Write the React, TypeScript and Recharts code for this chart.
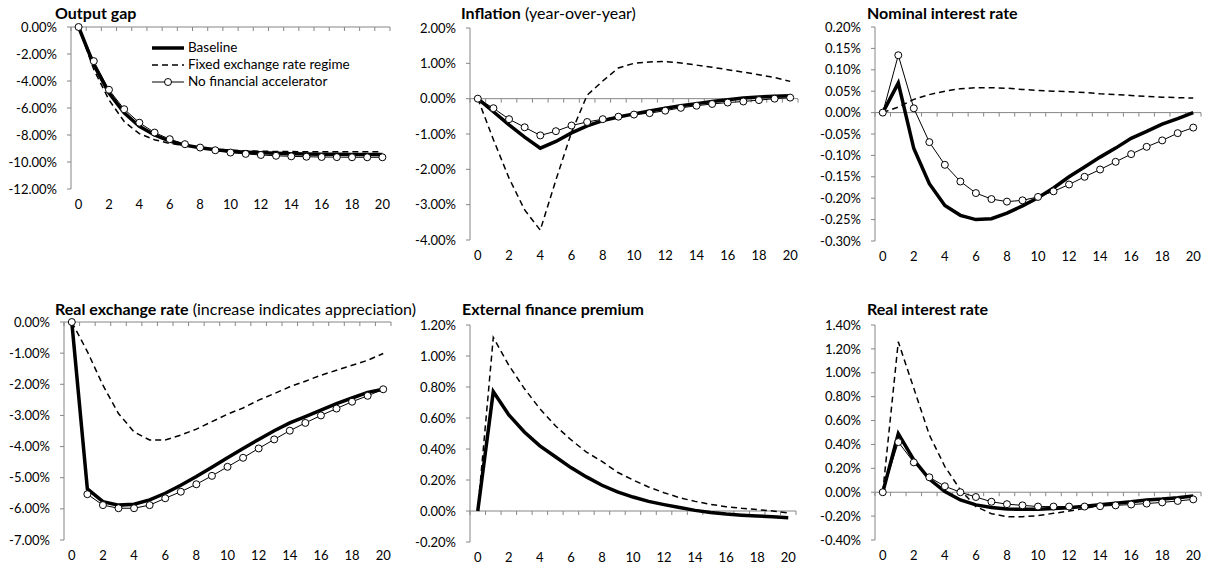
import { ComposedChart, Legend, Line, ReferenceLine, XAxis, YAxis } from "recharts";

const periods = [0, 1, 2, 3, 4, 5, 6, 7, 8, 9, 10, 11, 12, 13, 14, 15, 16, 17, 18, 19, 20];
const xTicks = [0, 2, 4, 6, 8, 10, 12, 14, 16, 18, 20];

// output gap
const gapBaseline = [0, -2.8, -4.9, -6.35, -7.35, -8.0, -8.45, -8.75, -8.95, -9.1, -9.2, -9.27, -9.32, -9.36, -9.39, -9.41, -9.42, -9.43, -9.44, -9.44, -9.45];
const gapFixed = [0, -3.15, -5.4, -7.0, -7.9, -8.35, -8.62, -8.8, -8.93, -9.04, -9.12, -9.17, -9.2, -9.22, -9.23, -9.24, -9.24, -9.24, -9.24, -9.24, -9.24];
const gapNoFa = [0, -2.53, -4.65, -6.09, -7.09, -7.82, -8.31, -8.68, -8.93, -9.13, -9.3, -9.4, -9.48, -9.54, -9.58, -9.61, -9.63, -9.64, -9.65, -9.65, -9.65];
const gapTicks = [0, -2, -4, -6, -8, -10, -12];

// inflation
const inflBaseline = [0, -0.37, -0.74, -1.09, -1.4, -1.21, -0.97, -0.77, -0.62, -0.52, -0.43, -0.35, -0.27, -0.2, -0.14, -0.08, -0.03, 0.02, 0.05, 0.07, 0.08];
const inflFixed = [0, -1.16, -2.25, -3.15, -3.72, -2.3, -0.95, 0.1, 0.5, 0.87, 1.0, 1.04, 1.05, 1.01, 0.95, 0.89, 0.82, 0.75, 0.68, 0.6, 0.49];
const inflNoFa = [0, -0.27, -0.58, -0.81, -1.04, -0.92, -0.76, -0.66, -0.58, -0.51, -0.45, -0.41, -0.34, -0.26, -0.2, -0.15, -0.11, -0.08, -0.04, 0.0, 0.03];
const inflTicks = [2, 1, 0, -1, -2, -3, -4];

// nominal interest rate
const nomBaseline = [0, 0.069, -0.084, -0.166, -0.217, -0.24, -0.25, -0.248, -0.235, -0.218, -0.199, -0.176, -0.15, -0.127, -0.104, -0.083, -0.06, -0.044, -0.027, -0.014, 0.0];
const nomFixed = [0, 0.013, 0.031, 0.042, 0.05, 0.056, 0.058, 0.058, 0.057, 0.054, 0.052, 0.05, 0.049, 0.047, 0.044, 0.042, 0.04, 0.038, 0.036, 0.035, 0.034];
const nomNoFa = [0, 0.134, 0.01, -0.069, -0.122, -0.161, -0.188, -0.202, -0.208, -0.205, -0.197, -0.184, -0.168, -0.15, -0.133, -0.115, -0.097, -0.08, -0.065, -0.048, -0.035];
const nomTicks = [0.2, 0.15, 0.1, 0.05, 0, -0.05, -0.1, -0.15, -0.2, -0.25, -0.3];

// real exchange rate
const rerBaseline = [0, -5.36, -5.77, -5.88, -5.85, -5.71, -5.5, -5.24, -4.96, -4.66, -4.36, -4.06, -3.77, -3.49, -3.24, -3.04, -2.83, -2.62, -2.44, -2.26, -2.16];
const rerFixed = [0, -0.95, -2.03, -2.94, -3.53, -3.79, -3.79, -3.63, -3.44, -3.2, -2.96, -2.76, -2.51, -2.3, -2.08, -1.9, -1.71, -1.55, -1.39, -1.23, -1.01];
const rerNoFa = [0, -5.53, -5.88, -5.98, -5.98, -5.88, -5.66, -5.45, -5.21, -4.94, -4.65, -4.36, -4.06, -3.77, -3.49, -3.24, -3.0, -2.78, -2.56, -2.37, -2.16];
const rerTicks = [0, -1, -2, -3, -4, -5, -6, -7];

// external finance premium
const efpBaseline = [0, 0.77, 0.62, 0.51, 0.42, 0.35, 0.28, 0.22, 0.166, 0.123, 0.09, 0.062, 0.041, 0.022, 0.004, -0.01, -0.02, -0.027, -0.032, -0.037, -0.043];
const efpFixed = [0, 1.12, 0.94, 0.79, 0.66, 0.55, 0.46, 0.38, 0.32, 0.25, 0.2, 0.155, 0.118, 0.086, 0.062, 0.043, 0.028, 0.017, 0.009, 0.0, -0.012];
const efpTicks = [1.2, 1.0, 0.8, 0.6, 0.4, 0.2, 0, -0.2];

// real interest rate
const rirBaseline = [0, 0.49, 0.27, 0.11, 0.005, -0.065, -0.106, -0.127, -0.14, -0.143, -0.143, -0.137, -0.13, -0.117, -0.104, -0.092, -0.08, -0.065, -0.057, -0.046, -0.031];
const rirFixed = [0, 1.26, 0.87, 0.48, 0.215, 0.02, -0.12, -0.18, -0.205, -0.205, -0.196, -0.177, -0.158, -0.135, -0.112, -0.095, -0.08, -0.067, -0.054, -0.046, -0.04];
const rirNoFa = [0, 0.42, 0.25, 0.125, 0.05, 0.0, -0.04, -0.08, -0.1, -0.11, -0.12, -0.12, -0.12, -0.12, -0.117, -0.11, -0.103, -0.095, -0.085, -0.073, -0.06];
const rirTicks = [1.4, 1.2, 1.0, 0.8, 0.6, 0.4, 0.2, 0, -0.2, -0.4];

const AXIS = "#868686";
const FONT = "Lato, 'Noto Sans', sans-serif";
const Y_W = 70;
const PAD_TOP = 10;
const PAD_RIGHT = 10;
const X_H = 30;

// horizontal category axis drawn at y = 0, with a tick at each category boundary
const zeroAxis = (props: any) => {
  const { x1, x2, y1 } = props;
  const step = (x2 - x1) / periods.length;
  return (
    <g>
      <line x1={x1} x2={x2} y1={y1} y2={y1} stroke={AXIS} strokeWidth={1} />
      {Array.from({ length: periods.length + 1 }, (_, i) => (
        <line key={i} x1={x1 + i * step} x2={x1 + i * step} y1={y1} y2={y1 + 4} stroke={AXIS} strokeWidth={1} />
      ))}
    </g>
  );
};

const LegendBox = () => (
  <div style={{ fontFamily: FONT, fontSize: 13.5, lineHeight: "17px", color: "#000" }}>
    {[
      { name: "Baseline", w: 3.5, dash: undefined, dot: false },
      { name: "Fixed exchange rate regime", w: 1.5, dash: "6 4", dot: false },
      { name: "No financial accelerator", w: 1, dash: undefined, dot: true },
    ].map((s) => (
      <div key={s.name} style={{ display: "flex", alignItems: "center", height: 17, whiteSpace: "nowrap" }}>
        <svg width={34} height={10} style={{ marginRight: 3 }}>
          <line x1={1} x2={33} y1={5} y2={5} stroke="#000" strokeWidth={s.w} strokeDasharray={s.dash} />
          {s.dot && <circle cx={17} cy={5} r={3.5} fill="#fff" stroke="#000" strokeWidth={1} />}
        </svg>
        <span>{s.name}</span>
      </div>
    ))}
  </div>
);

type PanelProps = {
  left: number;
  right: number;
  top: number;
  bottom: number;
  ticks: number[];
  baseline: number[];
  fixed: number[];
  noFa?: number[];
  legend?: boolean;
};

function Panel({ left, right, top, bottom, ticks, baseline, fixed, noFa, legend }: PanelProps) {
  const data = periods.map((t, i) => ({
    t,
    baseline: baseline[i],
    fixed: fixed[i],
    noFa: noFa ? noFa[i] : undefined,
  }));
  const w = Y_W + (right - left) + PAD_RIGHT;
  const h = PAD_TOP + (bottom - top) + X_H;
  const lo = Math.min(...ticks);
  const hi = Math.max(...ticks);
  return (
    <div style={{ position: "absolute", left: left - Y_W, top: top - PAD_TOP }}>
      <ComposedChart width={w} height={h} data={data} margin={{ top: PAD_TOP, right: PAD_RIGHT, bottom: 0, left: 0 }}>
        <XAxis
          dataKey="t"
          type="number"
          domain={[-0.5, 20.5]}
          ticks={xTicks}
          interval={0}
          axisLine={false}
          tickLine={false}
          tickMargin={5}
          height={X_H}
          tick={{ fill: "#000", fontSize: 13 }}
        />
        <YAxis
          type="number"
          domain={[lo, hi]}
          ticks={ticks}
          interval={0}
          width={Y_W}
          axisLine={{ stroke: AXIS }}
          tickLine={{ stroke: AXIS }}
          tickSize={4}
          tickMargin={10}
          tick={{ fill: "#000", fontSize: 13 }}
          tickFormatter={(v: number) => `${v.toFixed(2)}%`}
        />
        <ReferenceLine y={0} shape={zeroAxis} />
        <Line dataKey="baseline" name="Baseline" stroke="#000" strokeWidth={3.5} dot={false} isAnimationActive={false} />
        <Line dataKey="fixed" name="Fixed exchange rate regime" stroke="#000" strokeWidth={1.5} strokeDasharray="6 4" dot={false} isAnimationActive={false} />
        {noFa && (
          <Line
            dataKey="noFa"
            name="No financial accelerator"
            stroke="#000"
            strokeWidth={1}
            dot={{ r: 3.5, fill: "#fff", stroke: "#000", strokeWidth: 1 }}
            isAnimationActive={false}
          />
        )}
        {legend && (
          <Legend content={<LegendBox />} wrapperStyle={{ position: "absolute", left: 150, top: 22, width: 240 }} />
        )}
      </ComposedChart>
    </div>
  );
}

const titleStyle = (left: number, top: number): React.CSSProperties => ({
  position: "absolute",
  left,
  top,
  fontFamily: FONT,
  fontSize: 16,
  lineHeight: "18px",
  whiteSpace: "nowrap",
  color: "#000",
});

export default function App() {
  return (
    <div style={{ position: "absolute", left: 0, top: 0, width: 1212, height: 571, background: "#fff", fontFamily: FONT }}>
      <Panel left={71} right={390} top={27} bottom={240} ticks={gapTicks} baseline={gapBaseline} fixed={gapFixed} noFa={gapNoFa} legend />
      <Panel left={470} right={798} top={28} bottom={240} ticks={inflTicks} baseline={inflBaseline} fixed={inflFixed} noFa={inflNoFa} />
      <Panel left={875} right={1201} top={27} bottom={241} ticks={nomTicks} baseline={nomBaseline} fixed={nomFixed} noFa={nomNoFa} />
      <Panel left={64} right={391} top={322} bottom={540} ticks={rerTicks} baseline={rerBaseline} fixed={rerFixed} noFa={rerNoFa} />
      <Panel left={470} right={796} top={325} bottom={542} ticks={efpTicks} baseline={efpBaseline} fixed={efpFixed} />
      <Panel left={875} right={1201} top={325} bottom={540} ticks={rirTicks} baseline={rirBaseline} fixed={rirFixed} noFa={rirNoFa} />

      <div style={titleStyle(55, 4)}><b>Output gap</b></div>
      <div style={titleStyle(461, 4)}><b>Inflation</b> (year-over-year)</div>
      <div style={titleStyle(867, 4)}><b>Nominal interest rate</b></div>
      <div style={titleStyle(55, 300)}><b>Real exchange rate</b> (increase indicates appreciation)</div>
      <div style={titleStyle(462, 300)}><b>External finance premium</b></div>
      <div style={titleStyle(867, 300)}><b>Real interest rate</b></div>
    </div>
  );
}
